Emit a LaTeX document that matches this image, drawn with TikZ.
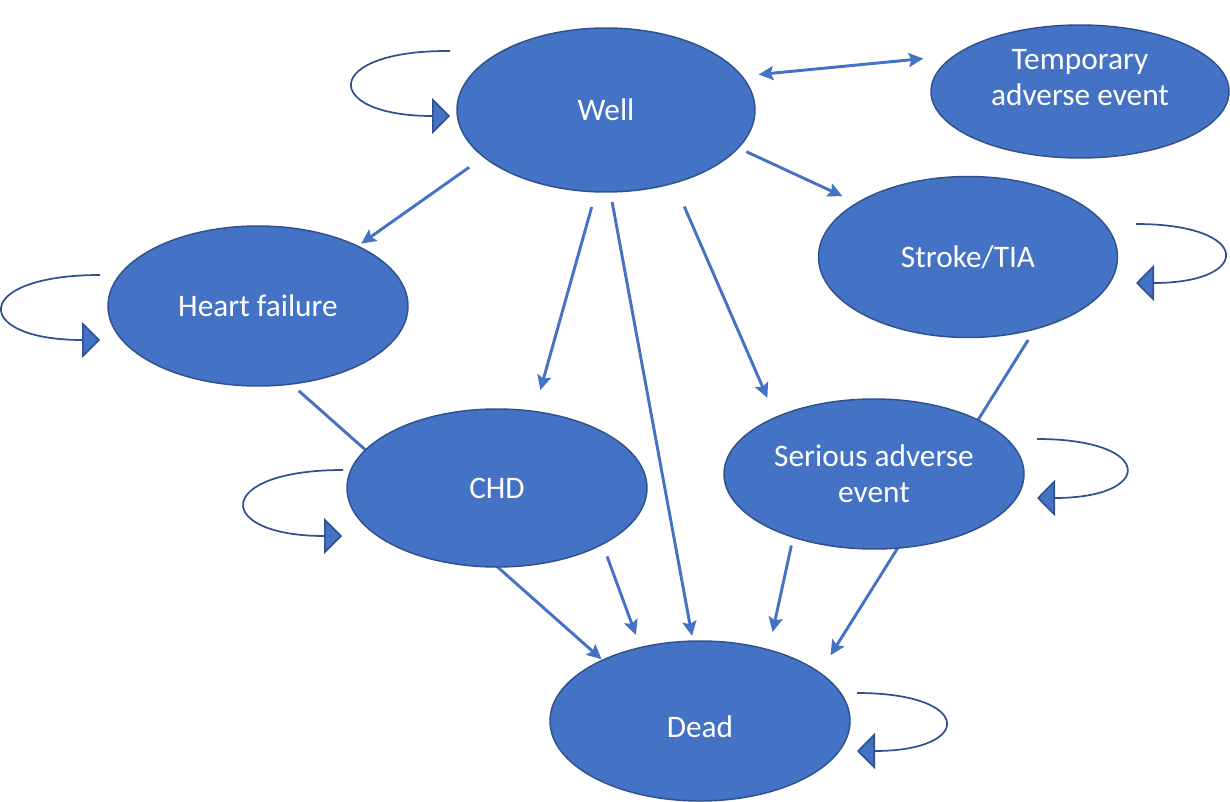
\documentclass[tikz,border=0pt]{standalone}
\usepackage{fontspec}
\setmainfont{Carlito}
\usetikzlibrary{shapes.geometric,arrows.meta,backgrounds}
\definecolor{stateblue}{HTML}{4472C4}
\definecolor{edgeblue}{HTML}{2F528F}

\begin{document}
\begin{tikzpicture}[x=0.75pt,y=-0.75pt,
		>={Stealth[length=11pt,width=10.5pt,inset=2pt]},
		state/.style={ellipse,draw=edgeblue,line width=1.1pt,fill=stateblue,text=white,
			inner sep=0pt,outer sep=0pt,align=center,font=\fontsize{23.5}{27}\selectfont},
		trans/.style={draw=stateblue,line width=2.2pt,->},
		selfloop/.style={draw=edgeblue,line width=1.3pt,
			-{Triangle[length=13.5pt,width=27pt,fill=stateblue,line width=1.2pt]}}]
		\useasboundingbox (0,0) rectangle (1230,802);
		% States
		\node[state,minimum width=223.5pt,minimum height=123pt] (well) at (606,110) {Well};
		\node[state,minimum width=223.5pt,minimum height=99.75pt,text depth=21pt] (temp) at (1080,91.5) {Temporary\\adverse event};
		\node[state,minimum width=224.25pt,minimum height=120.75pt] (stroke) at (968,257) {Stroke/TIA};
		\node[state,minimum width=225pt,minimum height=120pt] (hf) at (258,306) {Heart failure};
		\node[state,minimum width=225pt,minimum height=118.5pt] (chd) at (497,488) {CHD};
		\node[state,minimum width=225pt,minimum height=112.5pt] (sae) at (874,474) {Serious adverse\\event};
		\node[state,minimum width=225pt,minimum height=120pt,text height=25.5pt] (dead) at (700,721) {Dead};
		% Transitions, behind the states
		\begin{scope}[on background layer]
			\draw[trans,<->,shorten <=12.75pt,shorten >=23.6pt] (well.14.9) -- (temp.164.4);
			\draw[trans,shorten <=6.75pt,shorten >=12.2pt] (well.-16.7) -- (stroke.154.6);
			\draw[trans,shorten <=13.5pt,shorten >=3.3pt] (well.201.6) -- (hf.31.6);
			\draw[trans,shorten <=11.85pt,shorten >=16.65pt] (well.263.2) -- (chd.64.3);
			\draw[trans,shorten <=7.65pt,shorten >=3.9pt] (well.273.6) -- (dead.95.1);
			\draw[trans,shorten <=19.35pt,shorten >=15.9pt] (well.-47.8) -- (sae.150.1);
			\draw[trans,shorten <=7.7pt,shorten >=1.05pt] (hf.-67.5) -- (dead.148.7);
			\draw[trans,shorten <=9.8pt,shorten >=10.1pt] (chd.-28.5) -- (dead.129.4);
			\draw[trans,shorten <=9.75pt,shorten >=15.4pt] (stroke.-47.1) -- (dead.22.3);
			\draw[trans,shorten <=6.4pt,shorten >=13.65pt] (sae.-142.7) -- (dead.46.35);
		\end{scope}
		% Self loops
		\draw[selfloop] (450,51) .. controls (321,50) and (321,116) .. (450,116);
		\draw[selfloop] (100,275) .. controls (-29,275) and (-29,340) .. (100,340);
		\draw[selfloop] (343,470) .. controls (213,470) and (213,536) .. (342,536);
		\draw[selfloop] (1136,224) .. controls (1253,224) and (1253,283) .. (1136,283);
		\draw[selfloop] (1037,439) .. controls (1155,439) and (1155,498) .. (1037,498);
		\draw[selfloop] (857,693) .. controls (974,693) and (974,751) .. (857,751);
	\end{tikzpicture}
\end{document}
